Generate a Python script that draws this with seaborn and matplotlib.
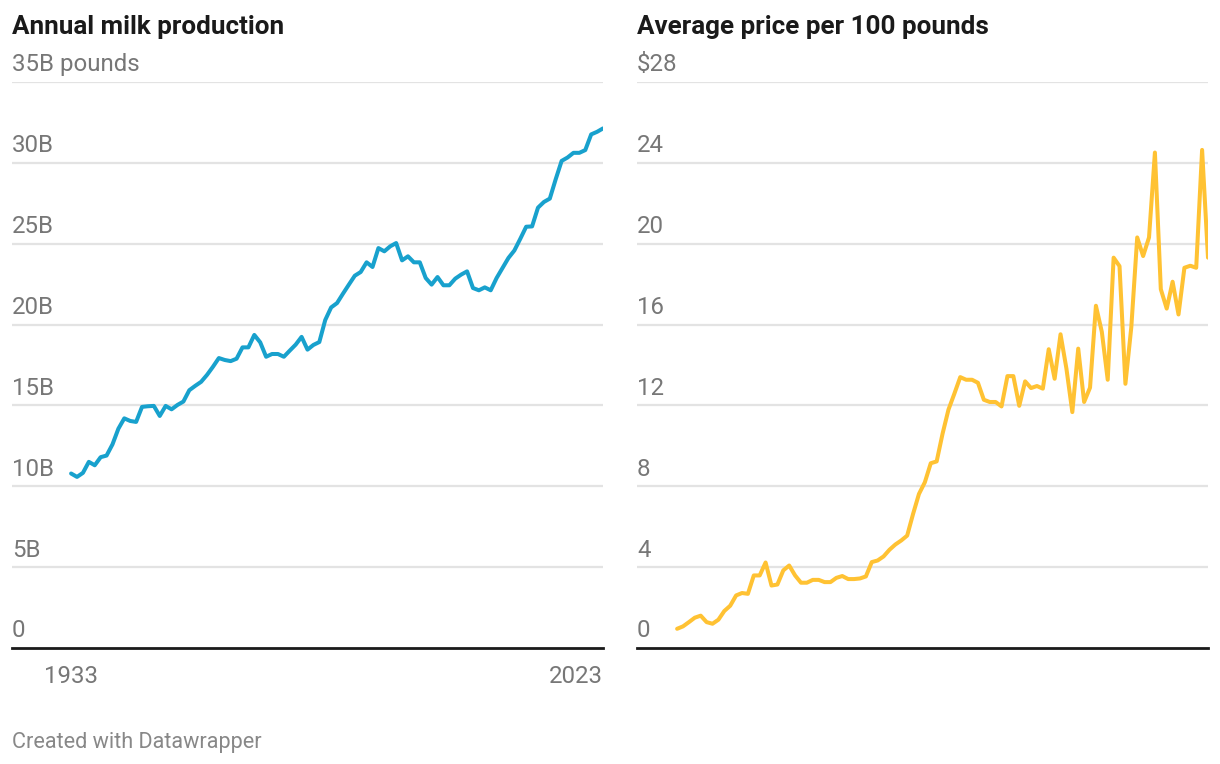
import numpy as np
import pandas as pd
import matplotlib
matplotlib.use("Agg")
import matplotlib.pyplot as plt
import seaborn as sns

# Data (1933-2023)
years = list(range(1933, 2024))

milk_billion_lbs = [
    10.79, 10.58, 10.83, 11.51, 11.30, 11.80, 11.90, 12.59, 13.56, 14.20,
    14.04, 13.98, 14.91, 14.95, 14.97, 14.35, 14.97, 14.76, 15.03, 15.24,
    15.94, 16.21, 16.46, 16.89, 17.39, 17.93, 17.81, 17.74, 17.89, 18.59,
    18.59, 19.36, 18.90, 18.01, 18.18, 18.18, 18.01, 18.39, 18.76, 19.24,
    18.45, 18.74, 18.92, 20.28, 21.06, 21.33, 21.91, 22.47, 23.02, 23.25,
    23.85, 23.56, 24.73, 24.53, 24.84, 25.04, 23.97, 24.22, 23.85, 23.85,
    22.88, 22.47, 22.94, 22.43, 22.43, 22.84, 23.09, 23.29, 22.26, 22.12,
    22.30, 22.12, 22.88, 23.50, 24.12, 24.58, 25.30, 26.05, 26.07, 27.23,
    27.58, 27.79, 28.99, 30.12, 30.33, 30.62, 30.62, 30.79, 31.76, 31.92,
    32.13,
]

price_per_cwt = [
    0.95, 1.07, 1.28, 1.50, 1.60, 1.28, 1.20, 1.40, 1.83, 2.09,
    2.60, 2.72, 2.68, 3.59, 3.59, 4.23, 3.09, 3.14, 3.84, 4.08,
    3.59, 3.23, 3.23, 3.37, 3.37, 3.26, 3.26, 3.47, 3.56, 3.41,
    3.41, 3.44, 3.54, 4.25, 4.33, 4.53, 4.86, 5.12, 5.32, 5.56,
    6.63, 7.62, 8.20, 9.14, 9.23, 10.60, 11.79, 12.58, 13.40, 13.27,
    13.27, 13.12, 12.28, 12.17, 12.17, 11.95, 13.45, 13.45, 11.98, 13.19,
    12.86, 12.96, 12.83, 14.78, 13.32, 15.52, 13.82, 11.67, 14.81, 12.17,
    12.88, 16.93, 15.64, 13.27, 19.31, 18.89, 13.07, 15.88, 20.31, 19.39,
    20.31, 24.51, 17.75, 16.79, 18.12, 16.50, 18.81, 18.91, 18.81, 24.64,
    19.31,
]

milk_ticks = [0, 5, 10, 15, 20, 25, 30, 35]
milk_tick_labels = ["0", "5B", "10B", "15B", "20B", "25B", "30B", "35B pounds"]
price_ticks = [0, 4, 8, 12, 16, 20, 24, 28]
price_tick_labels = ["0", "4", "8", "12", "16", "20", "24", "$28"]

df = pd.DataFrame({"year": years, "milk": milk_billion_lbs, "price": price_per_cwt})

sns.set_style("white")
plt.rcParams["font.family"] = ["Roboto", "DejaVu Sans"]

BLUE = "#18a1cd"
YELLOW = "#ffc233"
GREY = "#777777"
GRID = "#e3e3e3"
TICK_FS = 17.3

fig = plt.figure(figsize=(12.2, 7.64), dpi=100)
W, H = 1220, 764
bottom = 1 - 648 / H
height = (648 - 82) / H
ax1 = fig.add_axes([12 / W, bottom, (603 - 12) / W, height])
ax2 = fig.add_axes([637 / W, bottom, (1208 - 637) / W, height])


def style_panel(ax, ticks, labels, ymax):
    ax.set_ylim(0, ymax)
    ax.set_yticks(ticks)
    ax.set_yticklabels([])
    ax.tick_params(axis="y", length=0)
    for t in ticks[1:]:
        ax.axhline(t, color=GRID, lw=1.6, zorder=0)
    for t, lab in zip(ticks, labels):
        ax.annotate(lab, xy=(0, t), xycoords=("axes fraction", "data"),
                    xytext=(0, 4), textcoords="offset points",
                    ha="left", va="bottom", fontsize=TICK_FS, color=GREY)
    for s in ["top", "right", "left"]:
        ax.spines[s].set_visible(False)
    ax.spines["bottom"].set_color("#1a1a1a")
    ax.spines["bottom"].set_linewidth(2)
    ax.set_xlabel("")
    ax.set_ylabel("")


sns.lineplot(data=df, x="year", y="milk", ax=ax1, color=BLUE, lw=2.9)
ax1.set_xlim(1923.0, 2023)
style_panel(ax1, milk_ticks, milk_tick_labels, 35)
ax1.set_xticks([1933, 2023])
ax1.set_xticklabels(["1933", "2023"], fontsize=TICK_FS, color=GREY)
ax1.tick_params(axis="x", length=0, pad=12)
ax1.get_xticklabels()[-1].set_horizontalalignment("right")

sns.lineplot(data=df, x="year", y="price", ax=ax2, color=YELLOW, lw=2.9)
ax2.set_xlim(1926.2, 2023)
style_panel(ax2, price_ticks, price_tick_labels, 28)
ax2.set_xticks([])

fig.text(12 / W, 1 - 34 / H, "Annual milk production", fontsize=18.7,
         fontweight="bold", color="#1a1a1a", va="baseline")
fig.text(637 / W, 1 - 34 / H, "Average price per 100 pounds", fontsize=18.7,
         fontweight="bold", color="#1a1a1a", va="baseline")
fig.text(12 / W, 1 - 748 / H, "Created with Datawrapper", fontsize=15.6,
         color="#888888", va="baseline")

fig.savefig("out.png", dpi=100)
